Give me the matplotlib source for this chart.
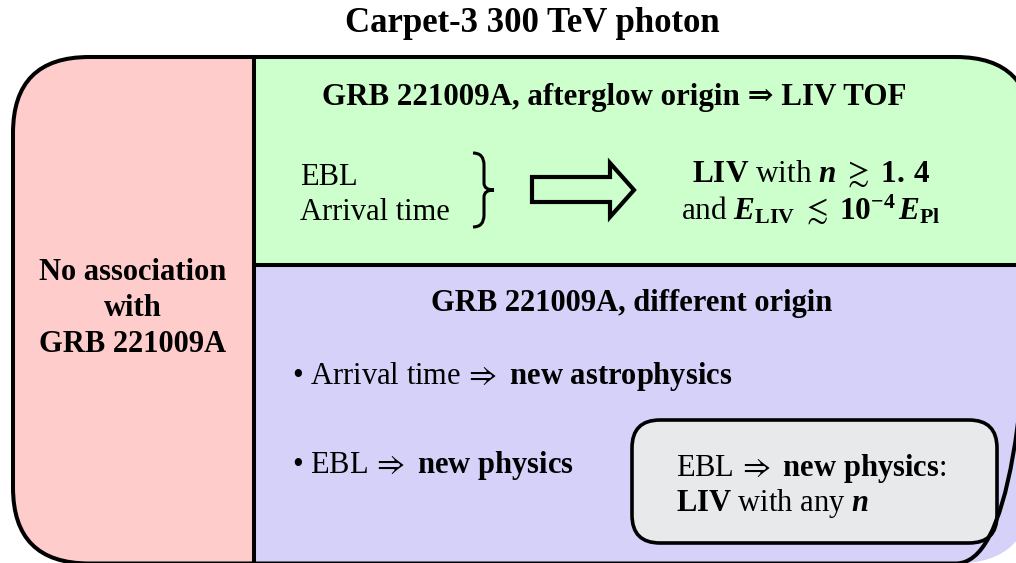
import matplotlib.pyplot as plt
from matplotlib.patches import FancyBboxPatch, Rectangle, Polygon, PathPatch
from matplotlib.path import Path

plt.rcParams['font.family'] = ['Liberation Serif', 'DejaVu Serif']
plt.rcParams['mathtext.fontset'] = 'custom'
plt.rcParams['mathtext.rm'] = 'Liberation Serif'
plt.rcParams['mathtext.bf'] = 'Liberation Serif:bold'
plt.rcParams['mathtext.it'] = 'Liberation Serif:italic:bold'
plt.rcParams['mathtext.fallback'] = 'stix'

# text content
title = 'Carpet-3 300 TeV photon'
left_lines = ['No association', 'with', 'GRB 221009A']
green_header = 'GRB 221009A, afterglow origin \u21d2 LIV TOF'
green_inputs = ['EBL', 'Arrival time']
green_result = [r'$\mathbf{LIV}$ with $n\;{\gtrsim}\;\mathbf{1.\,4}$',
                r'and $E_{\mathbf{LIV}}\;{\lesssim}\;\mathbf{10}^{\mathbf{-4}}\,E_{\mathbf{Pl}}$']
purple_header = 'GRB 221009A, different origin'
purple_bullets = [r'• Arrival time$\,{\Rightarrow}$ $\mathbf{new\ astrophysics}$',
                  r'• EBL$\,{\Rightarrow}$ $\mathbf{new\ physics}$']
box_lines = [r'EBL$\,{\Rightarrow}$ $\mathbf{new\ physics}$:',
             r'$\mathbf{LIV}$ with any $n$']

pink = '#ffcccc'
green = '#ccffcc'
purple = '#d5d1f8'
grey = '#e7e9ea'

fig = plt.figure(figsize=(10.16, 5.63), dpi=100)
ax = fig.add_axes([0, 0, 1, 1])
ax.set_xlim(0, 1016)
ax.set_ylim(563, 0)
ax.axis('off')

# outer rounded frame, used as clip for the three panels
outer = FancyBboxPatch((13, 57), 1032 - 13, 563.5 - 57,
                       boxstyle='round,pad=0,rounding_size=76',
                       facecolor='none', edgecolor='black', lw=2.9, zorder=5)
ax.add_patch(outer)

panels = [((0, 0), 254, 600, pink),
          ((254, 0), 800, 265, green),
          ((254, 265), 800, 340, purple)]
for xy, w, h, c in panels:
    r = Rectangle(xy, w, h, facecolor=c, edgecolor='none', zorder=1)
    ax.add_patch(r)
    r.set_clip_path(outer)

ax.plot([254, 254], [57, 563], color='black', lw=2.9, zorder=4)
div_h = ax.plot([254, 1040], [265, 265], color='black', lw=2.9, zorder=4)[0]
div_h.set_clip_path(outer)

# title
ax.text(532, 32, title, fontsize=25, weight='bold', ha='center', va='baseline')

# left panel
for txt, yb in zip(left_lines, [280, 316, 352]):
    ax.text(133, yb, txt, fontsize=22, weight='bold', ha='center', va='baseline')

# green panel
ax.text(614, 105, green_header, fontsize=22.3, weight='bold', ha='center', va='baseline')
for txt, yb in zip(green_inputs, [185, 220]):
    ax.text(300, yb, txt, fontsize=22, ha='left', va='baseline')

brace = Path([(473, 153), (484, 153), (484, 165), (484, 183), (484, 190), (494, 190),
              (484, 190), (484, 197), (484, 215), (484, 227), (473, 227)],
             [Path.MOVETO, Path.CURVE3, Path.CURVE3, Path.LINETO, Path.CURVE3, Path.CURVE3,
              Path.CURVE3, Path.CURVE3, Path.LINETO, Path.CURVE3, Path.CURVE3])
ax.add_patch(PathPatch(brace, facecolor='none', edgecolor='black', lw=2.2, zorder=3))

arrow = Polygon([(532, 177), (610, 177), (610, 163), (634, 190), (610, 217),
                 (610, 202), (532, 202)], closed=True, facecolor='none',
                edgecolor='black', lw=3.0, joinstyle='miter', zorder=3)
ax.add_patch(arrow)

for txt, yb in zip(green_result, [182, 219]):
    ax.text(811, yb, txt, fontsize=22.5, ha='center', va='baseline')

# purple panel
ax.text(632, 311, purple_header, fontsize=22, weight='bold', ha='center', va='baseline')
for txt, yb in zip(purple_bullets, [384, 473]):
    ax.text(292, yb, txt, fontsize=22, ha='left', va='baseline')

box = FancyBboxPatch((632, 420), 997 - 632, 543 - 420,
                     boxstyle='round,pad=0,rounding_size=28',
                     facecolor=grey, edgecolor='black', lw=2.6, zorder=3)
ax.add_patch(box)
for txt, yb in zip(box_lines, [476, 511]):
    ax.text(676, yb, txt, fontsize=22, ha='left', va='baseline', zorder=6)

fig.savefig('out.png', dpi=100)
